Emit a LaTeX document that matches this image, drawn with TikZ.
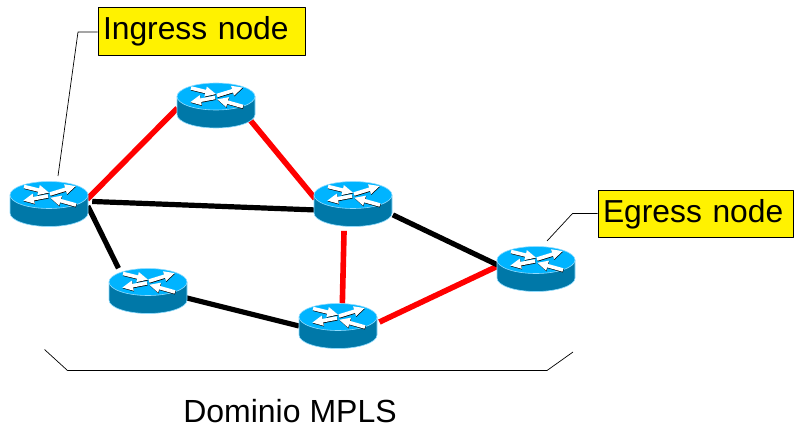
\documentclass[tikz,border=0pt]{standalone}
\usepackage{fontspec}
\setmainfont{Liberation Sans}
\usetikzlibrary{arrows.meta,shapes.geometric}
\definecolor{rtrtop}{HTML}{00B4FF}
\definecolor{rtrbody}{HTML}{0078A8}
\definecolor{rtredge}{HTML}{8FDCFF}
\tikzset{
	rtr/.style={ellipse,minimum width=78pt,minimum height=45pt,inner sep=0pt,outer sep=0pt},
	redlink/.style={line width=5.6pt,red},
	blacklink/.style={line width=5.2pt,black},
	leader/.style={line width=0.7pt},
	tag/.style={draw=black,line width=0.6pt,fill=yellow,inner xsep=5pt,inner ysep=0pt,minimum height=47.5pt,align=left,font=\fontsize{31.8}{36}\selectfont},
	rtrarrow/.style={-{Triangle[width=9.5pt,length=11pt]},line width=3.6pt},
	pics/router/.style={code={
		\fill[rtrbody,draw=rtredge,line width=0.6pt] (-39,-9) -- (-39,9) arc[start angle=180,end angle=0,x radius=39,y radius=13.5] -- (39,-9) -- cycle;
		\fill[rtrtop,draw=rtredge,line width=0.6pt] (0,-9) ellipse[x radius=39,y radius=13.5];
		\foreach \ax/\ay/\bx/\by in {-25/-17.5/0.3/-11.3, 1/-10/27/-18, -1/-8/-26/-3.3, 27/1/1/-6.3}{
			\draw[rtrarrow,black] (\ax+0.3,\ay+0.7) -- (\bx+0.3,\by+0.7);
			\draw[rtrarrow,white] (\ax,\ay) -- (\bx,\by);
		}
	}}
}
\begin{document}
\begin{tikzpicture}[x=1pt,y=-1pt,line join=round]
	\useasboundingbox (0,0) rectangle (794,425);
	\node[rtr] (r1) at (49,204) {};
	\node[rtr] (r2) at (216,105.5) {};
	\node[rtr] (r3) at (353,204) {};
	\node[rtr] (r4) at (536,269) {};
	\node[rtr] (r5) at (338,326) {};
	\node[rtr] (r6) at (148,291) {};
	% links
	\draw[redlink] (r1.7.5) -- (r2.184.6);
	\draw[redlink] (r2.-21.1) -- (r3.172.5);
	\draw[redlink,shorten <=5pt] (r3.-112.2) -- (r5.79.7);
	\draw[redlink,shorten <=3pt] (r5.4.5) -- (r4.176.2);
	\draw[blacklink,shorten <=4.5pt] (r1.4.7) -- (r3.189.1);
	\draw[blacklink,shorten >=7pt] (r1.-3) -- (r6.148.7);
	\draw[blacklink,shorten <=4.5pt] (r3.-14) -- (r4.174.7);
	\draw[blacklink] (r6.-10.7) -- (r5.180.7);
	\foreach \n in {r1,r2,r3,r4,r5,r6}
		\pic at (\n) {router};
	% labels
	\node[tag,text width=197pt] (ingress) at (201.5,31.5) {Ingress node};
	\node[tag,text width=185pt] (egress) at (695.5,214) {Egress node};
	\coordinate (itip) at (58,176);
	\coordinate (ibend) at (78,32);
	\coordinate (etip) at (547,241);
	\coordinate (ebend) at (572.5,213.5);
	\draw[leader] (itip) -- (ibend) -- (ibend-|ingress.west);
	\draw[leader] (etip) -- (ebend) -- (ebend-|egress.west);
	% domain
	\coordinate (d1) at (44.5,349.5);
	\coordinate (d2) at (67.5,370.5);
	\coordinate (d3) at (547,370.5);
	\coordinate (d4) at (573,352);
	\draw[leader] (d1) -- (d2) -- (d3) -- (d4);
	\node[anchor=base,inner sep=0pt,font=\fontsize{32}{36}\selectfont] (domain) at (290,422) {Dominio MPLS};
\end{tikzpicture}
\end{document}
